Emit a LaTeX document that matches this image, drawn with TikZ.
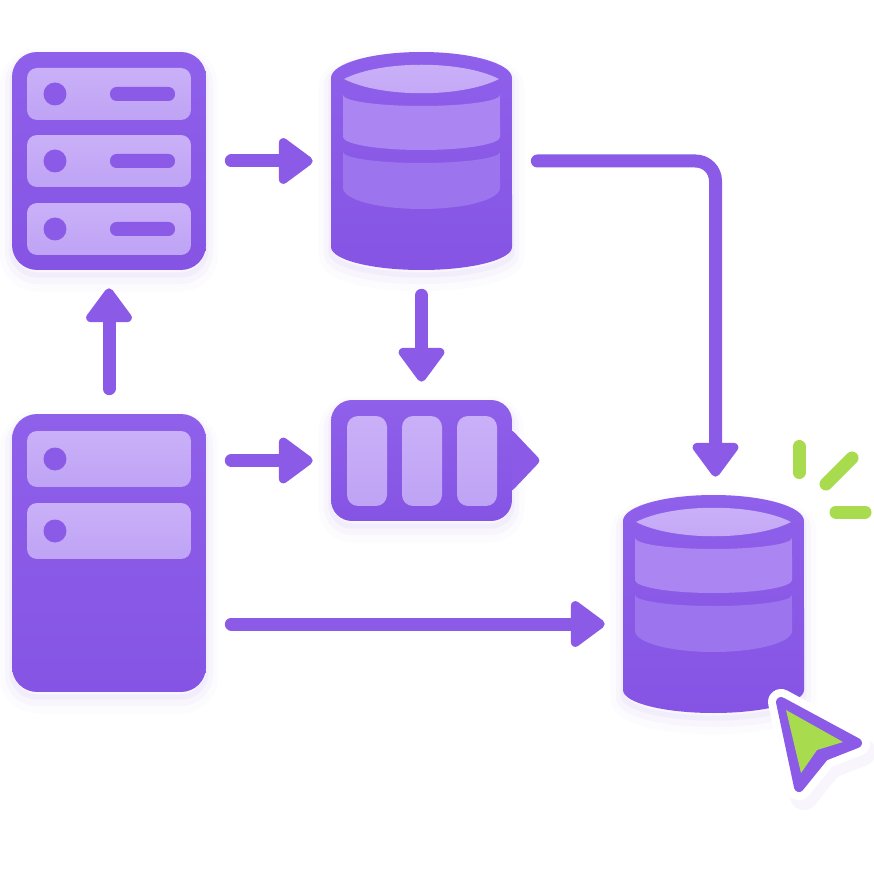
\documentclass[tikz,border=0pt]{standalone}
\usepackage{xcolor}
\usepackage{tikz}
\usetikzlibrary{positioning,arrows.meta}

\definecolor{violetbody}{HTML}{8B5BE8}
\definecolor{violettop}{HTML}{8F60EA}
\definecolor{violetlow}{HTML}{8554E4}
\definecolor{panellight}{HTML}{CAB0F8}
\definecolor{panelmid}{HTML}{BFA3F5}
\definecolor{bandhigh}{HTML}{AB86F2}
\definecolor{bandlow}{HTML}{9C74EE}
\definecolor{sparkgreen}{HTML}{A8DC4E}

\tikzset{
  softglow/.style={
    preaction={draw=violetbody, draw opacity=.025, line width=14pt, line join=round, transform canvas={yshift=-.18cm}},
    preaction={draw=violetbody, draw opacity=.035, line width=8pt, line join=round, transform canvas={yshift=-.14cm}},
    preaction={draw=violetbody, draw opacity=.05, line width=3pt, line join=round, transform canvas={yshift=-.1cm}}
  },
  rackbody/.style={softglow, rounded corners=.5cm, top color=violettop, bottom color=violetlow, minimum width=3.88cm, inner sep=0pt},
  slotpanel/.style={rounded corners=.2cm, top color=panellight, bottom color=panelmid, minimum width=3.28cm, inner sep=0pt},
  slotlamp/.style={circle, fill=violetbody, minimum size=.46cm, inner sep=0pt},
  slotbar/.style={rounded corners=.13cm, fill=violetbody, minimum width=1.3cm, minimum height=.28cm, inner sep=0pt},
  cellbar/.style={rounded corners=.22cm, top color=panellight, bottom color=panelmid, minimum width=.8cm, minimum height=1.8cm, inner sep=0pt},
  flowarrow/.style={-{Triangle[length=.74cm, width=1.04cm, round, line width=5pt]}, draw=violetbody, line width=.26cm, line cap=round, shorten <=.5cm, shorten >=.36cm},
  sparkline/.style={draw=sparkgreen, line width=.26cm, line cap=round},
  dbcyl/.pic={
    \node[minimum width=3.62cm, minimum height=4.36cm, inner sep=0pt] (-hull) at (90.5,109) {};
    \path[softglow, top color=violettop, bottom color=violetlow] (0,26) arc[start angle=180, end angle=0, x radius=1.81cm, y radius=.52cm]
      -- (181,195) arc[start angle=0, end angle=-180, x radius=1.81cm, y radius=.46cm] -- cycle;
    \path[top color=panellight, bottom color=panellight!80!bandhigh] (13,27) .. controls (50,8) and (131,8) .. (168,27)
      .. controls (131,46) and (50,46) .. (13,27) -- cycle;
    \fill[bandhigh] (12,43) arc[start angle=180, end angle=360, x radius=1.57cm, y radius=.22cm]
      -- (169,85) arc[start angle=0, end angle=-180, x radius=1.57cm, y radius=.26cm] -- cycle;
    \fill[bandlow] (12,100) arc[start angle=180, end angle=360, x radius=1.57cm, y radius=.22cm]
      -- (169,136) arc[start angle=0, end angle=-180, x radius=1.57cm, y radius=.42cm] -- cycle;
  }
}

\begin{document}
\begin{tikzpicture}[x=.02cm, y=-.02cm]
    \path[fill=white, use as bounding box] (0,0) rectangle (874,874);

    \node[rackbody, minimum height=4.36cm] (rackA) at (109,161) {};
    \foreach \y in {94,161,229} {
      \node[slotpanel, minimum height=1.04cm] (slotA\y) at (109,\y) {};
      \node[slotlamp] (lampA\y) at (55,\y) {};
      \node[slotbar] (barA\y) at (142.5,\y) {};
    }

    \node[rackbody, minimum height=5.56cm] (rackB) at (109,553) {};
    \foreach \y in {459,531} {
      \node[slotpanel, minimum height=1.12cm] (slotB\y) at (109,\y) {};
      \node[slotlamp] (lampB\y) at (55,\y) {};
    }

    \pic (dbA) at (331,52) {dbcyl};
    \pic (dbB) at (623,495) {dbcyl};

    \fill[violetbody, rounded corners=.08cm] (500,425) -- (512,430) -- (541,460.5) -- (512,491) -- (500,496) -- cycle;
    \node[softglow, rounded corners=.42cm, top color=violettop, bottom color=violetlow, minimum width=3.62cm, minimum height=2.42cm, inner sep=0pt] (batt) at (421.5,460.5) {};
    \foreach \x in {367,422,477} {
      \node[cellbar] (cell\x) at (\x,461) {};
    }

    \coordinate (lowfeed) at (0,624);

    \draw[flowarrow] (rackA.east) -- (rackA.east -| dbA-hull.west);
    \draw[flowarrow, rounded corners=.4cm] (dbA-hull.east) -| ([xshift=.04cm]dbB-hull.north);
    \draw[flowarrow] (dbA-hull.south) -- (dbA-hull.south |- batt.north);
    \draw[flowarrow] (rackB.north) -- (rackA.south);
    \draw[flowarrow] (rackB.east |- batt.west) -- (batt.west);
    \draw[flowarrow] (rackB.east |- lowfeed) -- (dbB-hull.west |- lowfeed);

    \draw[sparkline] (799,446.5) -- (799,472.5);
    \draw[sparkline] (852,458) -- (826,484);
    \draw[sparkline] (836,512) -- (865,512);

    \path[draw=violetbody, draw opacity=.06, line width=16pt, line join=round, transform canvas={xshift=.1cm, yshift=-.18cm}] (781,702) -- (857,743) -- (824,756) -- (799,787) -- cycle;
    \path[draw=white, fill=white, line width=.52cm, line join=round] (781,702) -- (857,743) -- (824,756) -- (799,787) -- cycle;
    \path[draw=violetbody, fill=violetbody, line width=.2cm, line join=round] (781,702) -- (857,743) -- (824,756) -- (799,787) -- cycle;
    \fill[sparkgreen] (786,710) -- (843,742) -- (817,750) -- (801,773) -- cycle;
  \end{tikzpicture}
\end{document}
